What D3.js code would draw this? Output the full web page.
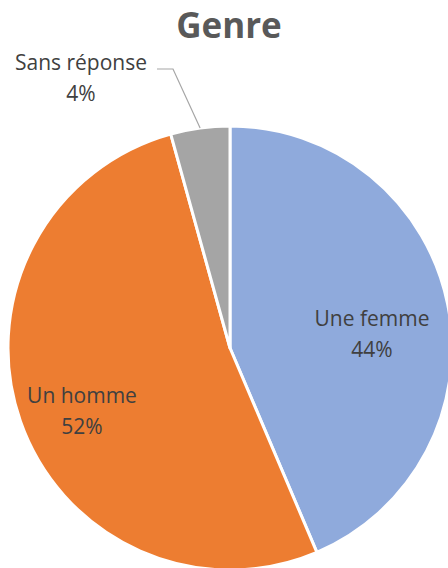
<!DOCTYPE html>
<html>
<head>
<meta charset="utf-8">
<script src="https://d3js.org/d3.v7.min.js"></script>
<style>
  body { margin: 0; background: #fff; }
  text { font-family: "Open Sans", sans-serif; }
</style>
</head>
<body>
<script>
var categories = ["Une femme", "Un homme", "Sans réponse"];
var values = [43.6, 52.1, 4.3];
var colors = ["#8FAADC", "#ED7D31", "#A5A5A5"];

var width = 448, height = 568;
var cx = 230, cy = 348, radius = 222;

var svg = d3.select("body").append("svg")
    .attr("width", width)
    .attr("height", height);

svg.append("text")
    .attr("x", 229).attr("y", 38)
    .attr("text-anchor", "middle")
    .attr("font-size", 35)
    .attr("font-weight", "bold")
    .attr("fill", "#595959")
    .text("Genre");

var data = categories.map(function(c, i) { return {name: c, value: values[i], color: colors[i]}; });

var pie = d3.pie().sort(null).value(function(d) { return d.value; });
var arc = d3.arc().innerRadius(0).outerRadius(radius);

var g = svg.append("g").attr("transform", "translate(" + cx + "," + cy + ")");

var arcs = pie(data);

g.selectAll("path")
    .data(arcs)
    .enter().append("path")
    .attr("d", arc)
    .attr("fill", function(d) { return d.data.color; })
    .attr("stroke", "#fff")
    .attr("stroke-width", 3)
    .attr("stroke-linejoin", "round");

// label positions (relative to pie centre)
var labelPos = [[142, -22], [-148, 55], [-149, -278]];

var labels = g.selectAll("g.lbl")
    .data(arcs)
    .enter().append("g")
    .attr("class", "lbl")
    .attr("transform", function(d, i) { return "translate(" + labelPos[i][0] + "," + labelPos[i][1] + ")"; });

labels.append("text")
    .attr("text-anchor", "middle")
    .attr("font-size", 21)
    .attr("fill", "#404040")
    .attr("y", 0)
    .text(function(d) { return d.data.name; });

labels.append("text")
    .attr("text-anchor", "middle")
    .attr("font-size", 21)
    .attr("fill", "#404040")
    .attr("y", 31)
    .text(function(d) { return Math.round(d.data.value) + "%"; });

// leader line for the small slice
var small = arcs[2];
var mid = (small.startAngle + small.endAngle) / 2;
var edge = [Math.sin(mid) * radius, -Math.cos(mid) * radius];
g.append("polyline")
    .attr("points", [[-73, -279], [-57, -279], edge].map(function(p) { return p.join(","); }).join(" "))
    .attr("fill", "none")
    .attr("stroke", "#A6A6A6")
    .attr("stroke-width", 1.2);
</script>
</body>
</html>
